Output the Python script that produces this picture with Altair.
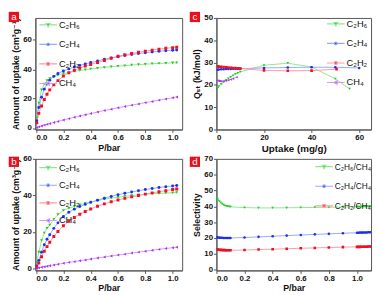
import altair as alt
import pandas as pd

FONT = "Liberation Sans, DejaVu Sans, sans-serif"

# ---------------- data ----------------
GASES = ["C₂H₆", "C₂H₄", "C₂H₂", "CH₄"]
SEL_NAMES = ["C₂H₆/CH₄", "C₂H₄/CH₄", "C₂H₂/CH₄"]

P_ISO = [0.005, 0.02, 0.04, 0.06, 0.08, 0.10, 0.13, 0.16, 0.20, 0.24, 0.28, 0.32, 0.36, 0.40,
         0.45, 0.50, 0.55, 0.60, 0.65, 0.70, 0.75, 0.80, 0.85, 0.90, 0.95, 1.00, 1.03]

# panel a
A_C2H6 = [7.0, 17.0, 26.0, 30.0, 32.3, 33.7, 35.0, 36.0, 37.1, 37.9, 38.6, 39.2, 39.7, 40.2,
          40.8, 41.3, 41.7, 42.1, 42.5, 42.9, 43.2, 43.5, 43.8, 44.0, 44.2, 44.4, 44.5]
A_C2H4 = [5.0, 14.0, 21.0, 26.5, 30.0, 32.5, 35.2, 37.2, 38.9, 40.3, 41.6, 42.7, 43.7, 44.6,
          45.7, 46.8, 47.8, 48.6, 49.4, 50.1, 50.7, 51.3, 51.8, 52.3, 52.7, 53.0, 53.2]
A_C2H2 = [3.5, 10.0, 15.0, 19.5, 23.0, 26.0, 29.5, 32.3, 35.5, 37.6, 39.4, 40.9, 42.2, 43.3,
          44.7, 46.0, 47.5, 48.9, 49.9, 50.8, 51.6, 52.4, 53.1, 53.7, 54.3, 54.8, 55.1]
A_CH4 = [0.3, 0.8, 1.4, 2.0, 2.5, 3.0, 3.8, 4.5, 5.5, 6.4, 7.3, 8.2, 9.0, 9.9,
         10.9, 11.9, 12.8, 13.8, 14.7, 15.6, 16.4, 17.3, 18.1, 19.0, 19.8, 20.6, 21.2]

# panel b
B_C2H6 = [3.5, 9.0, 15.4, 19.5, 22.0, 23.8, 27.0, 29.5, 31.8, 33.0, 34.0, 34.9, 35.7, 36.4,
          37.2, 37.9, 38.5, 39.0, 39.5, 39.9, 40.3, 40.6, 40.9, 41.1, 41.3, 41.5, 41.6]
B_C2H4 = [1.5, 4.5, 9.0, 13.0, 16.0, 18.5, 22.0, 25.0, 28.5, 30.8, 32.5, 33.9, 35.1, 36.2,
          37.4, 38.5, 39.5, 40.4, 41.2, 41.9, 42.6, 43.2, 43.8, 44.3, 44.8, 45.2, 45.4]
B_C2H2 = [1.0, 3.0, 6.5, 9.5, 12.0, 14.4, 17.5, 20.3, 23.4, 25.8, 27.9, 29.7, 31.2, 32.6,
          34.1, 35.4, 36.5, 37.5, 38.4, 39.2, 40.0, 40.7, 41.4, 42.0, 42.6, 43.2, 43.5]
B_CH4 = [0.1, 0.4, 0.7, 1.0, 1.3, 1.6, 2.0, 2.4, 2.9, 3.4, 3.8, 4.3, 4.7, 5.2,
         5.8, 6.3, 6.9, 7.4, 7.9, 8.5, 9.0, 9.5, 10.0, 10.5, 11.0, 11.4, 11.7]

# panel c (Qst vs uptake)
C_C2H6_X = [0.5, 1, 2, 3, 4, 5, 6, 7, 8, 9, 10, 20, 30, 40, 50, 56]
C_C2H6_Y = [18.5, 19.3, 20.3, 21.2, 22.0, 22.8, 23.5, 24.2, 24.8, 25.3, 25.8, 28.8, 29.7, 28.0, 22.7, 18.2]
C_C2H4_X = [0.5, 1, 2, 3, 4, 5, 6, 7, 8, 9, 10, 20, 30, 40, 50, 60]
C_C2H4_Y = [26.8, 26.9, 27.0, 27.0, 27.1, 27.1, 27.1, 27.2, 27.2, 27.2, 27.3, 27.6, 27.8, 27.9, 27.9, 27.6]
C_C2H2_X = [0.5, 1, 2, 3, 4, 5, 6, 7, 8, 9, 10, 20, 30, 40, 50.5]
C_C2H2_Y = [28.3, 28.2, 28.1, 28.0, 27.9, 27.8, 27.7, 27.6, 27.5, 27.4, 27.3, 26.5, 26.3, 26.4, 27.0]
C_CH4_X = [0.5, 1, 1.5, 2, 3, 4, 5, 6, 7, 8.5]
C_CH4_Y = [22.0, 21.8, 21.7, 21.6, 21.7, 21.9, 22.1, 22.4, 22.8, 23.4]

# panel d (selectivity)
P_SEL = [0.005, 0.01, 0.02, 0.03, 0.04, 0.05, 0.06, 0.07, 0.08, 0.09, 0.10, 0.2, 0.3, 0.4, 0.5,
         0.6, 0.7, 0.8, 0.9, 1.0, 1.01, 1.02, 1.03, 1.04, 1.05, 1.06, 1.07, 1.08, 1.09, 1.10]
D_C2H6 = [45.0, 44.2, 43.2, 42.3, 41.6, 41.0, 40.5, 40.2, 40.0, 39.8, 39.7, 39.2, 39.0, 39.0, 39.1,
          39.2, 39.3, 39.4, 39.6, 39.7, 39.7, 39.7, 39.8, 39.8, 39.8, 39.8, 39.8, 39.9, 39.9, 39.9]
D_C2H4 = [20.4, 20.3, 20.2, 20.1, 20.1, 20.0, 20.0, 20.0, 20.0, 20.0, 20.0, 20.3, 20.7, 21.1, 21.5,
          21.9, 22.3, 22.6, 23.0, 23.3, 23.3, 23.4, 23.4, 23.4, 23.5, 23.5, 23.5, 23.6, 23.6, 23.6]
D_C2H2 = [12.8, 12.7, 12.6, 12.5, 12.4, 12.3, 12.3, 12.2, 12.2, 12.2, 12.2, 12.4, 12.7, 12.9, 13.2,
          13.5, 13.7, 14.0, 14.2, 14.4, 14.4, 14.4, 14.5, 14.5, 14.5, 14.5, 14.5, 14.6, 14.6, 14.6]

# ---------------- styles ----------------
DARK = ["#1fcc1f", "#1a2ff0", "#f01020", "#b030f0"]
LIGHT = ["#8ee88e", "#9aa8ff", "#ff9aa8", "#d99aff"]
SHAPES = ["triangle-down", "circle", "square", "triangle-left"]
# legend glyphs: light line segments (stroked) + dark marker (filled)
PATHS = [
    "M-1,0L-0.24,0M0.24,0L1,0M-0.22,-0.15L0.22,-0.15L0,0.22Z",
    "M-1,0L-0.18,0M0.18,0L1,0M-0.15,0A0.15,0.15 0 1,0 0.15,0A0.15,0.15 0 1,0 -0.15,0Z",
    "M-1,0L-0.18,0M0.18,0L1,0M-0.14,-0.14L0.14,-0.14L0.14,0.14L-0.14,0.14Z",
    "M-1,0L-0.24,0M0.2,0L1,0M-0.22,0L0.15,-0.2L0.15,0.2Z",
]


def long_df(pairs, names):
    rows = []
    for (xs, ys), n in zip(pairs, names):
        for xv, yv in zip(xs, ys):
            rows.append({"x": xv, "y": yv, "s": n})
    return pd.DataFrame(rows)


def panel(df, names, xdom, xvals, xfmt, xtitle, ydom, yvals, ytitle, w, h,
          lx, ly_leg, letter, ly, psize, xtitle_size=9, rowpad=3, lfs=9.5):
    dark = DARK[:len(names)]
    light = LIGHT[:len(names)]
    shapes = SHAPES[:len(names)]
    paths = PATHS[:len(names)]
    x = alt.X("x:Q", scale=alt.Scale(domain=xdom, nice=False, zero=False),
              axis=alt.Axis(values=xvals, format=xfmt, title=xtitle, titleFontSize=xtitle_size))
    y = alt.Y("y:Q", scale=alt.Scale(domain=ydom, nice=False, zero=False),
              axis=alt.Axis(values=yvals, title=ytitle))
    base = alt.Chart(df)
    line = base.mark_line(strokeWidth=1, clip=True).encode(
        x=x, y=y,
        stroke=alt.Stroke("s:N", scale=alt.Scale(domain=names, range=light), legend=None),
    )
    pts = base.mark_point(filled=True, size=psize, strokeWidth=0, opacity=1, clip=True).encode(
        x=x, y=y,
        fill=alt.Fill("s:N", scale=alt.Scale(domain=names, range=dark), legend=None),
        shape=alt.Shape("s:N", scale=alt.Scale(domain=names, range=shapes), legend=None),
    )
    leg = alt.Legend(title=None, orient="none", legendX=lx, legendY=ly_leg,
                     labelFontSize=lfs, labelFont=FONT,
                     symbolSize=324, symbolStrokeWidth=1.2, rowPadding=rowpad, labelOffset=1,
                     padding=0, symbolOpacity=1, labelColor="#111")
    legl = base.transform_filter("false").mark_point(filled=True, strokeWidth=1.2, opacity=1).encode(
        x=x, y=y,
        fill=alt.Fill("s:N", scale=alt.Scale(domain=names, range=dark), legend=leg),
        stroke=alt.Stroke("s:N", scale=alt.Scale(domain=names, range=light), legend=leg),
        shape=alt.Shape("s:N", scale=alt.Scale(domain=names, range=paths), legend=leg),
    )
    ldf = pd.DataFrame({"t": [letter]})
    sq = alt.Chart(ldf).mark_square(size=110, color="#e8101a", opacity=1).encode(
        x=alt.value(-22), y=alt.value(ly))
    tx = alt.Chart(ldf).mark_text(color="white", fontSize=10, font=FONT, baseline="middle",
                                  align="center").encode(
        x=alt.value(-22), y=alt.value(ly), text="t:N")
    return alt.layer(line, pts, legl, sq, tx).resolve_scale(
        shape="independent", fill="independent", stroke="independent"
    ).properties(width=w, height=h)


df_a = long_df([(P_ISO, A_C2H6), (P_ISO, A_C2H4), (P_ISO, A_C2H2), (P_ISO, A_CH4)], GASES)
df_b = long_df([(P_ISO, B_C2H6), (P_ISO, B_C2H4), (P_ISO, B_C2H2), (P_ISO, B_CH4)], GASES)
df_c = long_df([(C_C2H6_X, C_C2H6_Y), (C_C2H4_X, C_C2H4_Y), (C_C2H2_X, C_C2H2_Y),
                (C_CH4_X, C_CH4_Y)], GASES)
df_d = long_df([(P_SEL, D_C2H6), (P_SEL, D_C2H4), (P_SEL, D_C2H2)], SEL_NAMES)

PV = [0.0, 0.2, 0.4, 0.6, 0.8, 1.0]
YT = "Amount of uptake (cm³g⁻¹)"

pa = panel(df_a, GASES, [-0.005, 1.07], PV, ".1f", "P/bar", [-1, 75], [0, 20, 40, 60], YT,
           150, 114, 3, -3, "a", -1, 9, rowpad=5)
pc = panel(df_c, GASES, [0, 65], [0, 20, 40, 60], "d", "Uptake (mg/g)", [0, 50],
           [0, 10, 20, 30, 40, 50], "Qₛₜ (kJ/mol)", 158, 114, 112, -4, "c", -1, 7,
           xtitle_size=10, rowpad=5)
pb = panel(df_b, GASES, [-0.005, 1.07], PV, ".1f", "P/bar", [-1, 60], [0, 20, 40, 60], YT,
           150, 114, 3, -1, "b", 3, 9, rowpad=3)
pd_ = panel(df_d, SEL_NAMES, [0, 1.1], PV, ".1f", "P/bar", [-0.5, 70],
            [0, 10, 20, 30, 40, 50, 60, 70], "Selectivity", 158, 114, 100, -2, "d", 3, 7,
            rowpad=5, lfs=8.5)

chart = alt.vconcat(
    alt.hconcat(pa, pc, spacing=6),
    alt.hconcat(pb, pd_, spacing=6),
    spacing=0,
).properties(padding=0).configure_view(
    stroke="#555555", strokeWidth=1
).configure_axis(
    labelFont=FONT, titleFont=FONT, labelFontSize=8, titleFontSize=9,
    labelFontWeight="bold", titleFontWeight="bold", labelColor="#111", titleColor="#111",
    domainColor="#555555", tickColor="#555555", tickSize=3, labelPadding=1, titlePadding=2,
    grid=False,
)

chart.save("out.html", embed_options={"renderer": "svg", "actions": False})
